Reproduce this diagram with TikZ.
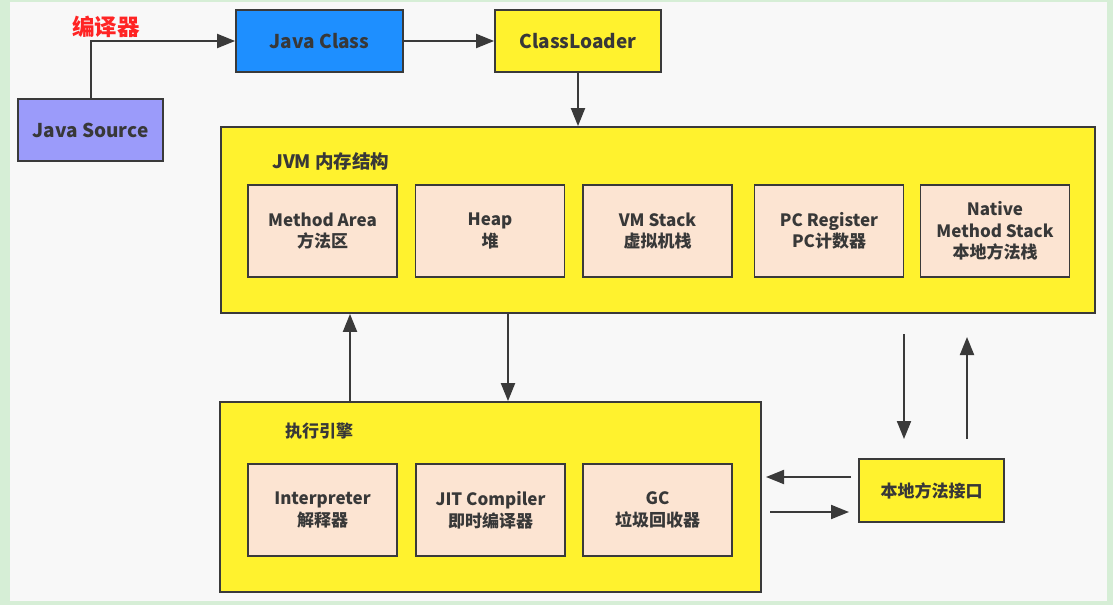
\documentclass[tikz,border=0pt]{standalone}
\usepackage{fontspec}
\setmainfont{Noto Sans CJK SC}
\usetikzlibrary{arrows.meta,calc}
\definecolor{frameg}{HTML}{D6EED6}
\definecolor{canvas}{HTML}{F8F8F8}
\definecolor{edgec}{HTML}{3A3A3A}
\definecolor{txt}{HTML}{383838}
\definecolor{srcc}{HTML}{9B9BFA}
\definecolor{clsc}{HTML}{1E8FFF}
\definecolor{yel}{HTML}{FFF22E}
\definecolor{peach}{HTML}{FCE4D2}
\definecolor{redt}{HTML}{FF2424}
\tikzset{
  box/.style={draw=edgec, line width=1.8pt, inner sep=0pt, align=center, text=txt, font=\fontsize{19}{22}\selectfont\bfseries},
  inbox/.style={box, fill=peach, minimum width=149pt, minimum height=92pt, font=\fontsize{17}{21.5}\selectfont\bfseries},
  arr/.style={draw=edgec, line width=2pt, -{Triangle[length=18pt,width=14pt]}},
  lbl/.style={text=txt, font=\fontsize{18.5}{21}\selectfont\bfseries, inner sep=0pt}
}
\begin{document}
\begin{tikzpicture}[x=1pt,y=-1pt]
\useasboundingbox (0,0) rectangle (1113,605);
\fill[frameg] (0,0) rectangle (1113,605);
\fill[canvas] (10,2) rectangle (1107,601);

\node[box, fill=srcc, minimum width=145pt, minimum height=62pt] (src) at (90.5,130) {Java Source};
\node[box, fill=clsc, minimum width=167pt, minimum height=62pt] (cls) at (319.5,41) {Java Class};
\node[box, fill=yel, minimum width=166pt, minimum height=62pt] (loader) at (578,41) {ClassLoader};
\node[text=redt, font=\fontsize{22.5}{25}\selectfont\bfseries, inner sep=0pt] (comp) at (106,27) {编译器};

\node[box, fill=yel, minimum width=874pt, minimum height=186pt] (jvm) at (658,220) {};
\node[lbl, anchor=west] (jvml) at (272,161) {JVM 内存结构};
\node[inbox] (ma) at (322.5,231) {Method Area\\方法区};
\node[inbox] (heap) at (490,231) {Heap\\堆};
\node[inbox] (vms) at (657.5,231) {VM Stack\\虚拟机栈};
\node[inbox] (pc) at (829,231) {PC Register\\PC计数器};
\node[inbox] (nms) at (995,231) {Native\\Method Stack\\本地方法栈};

\node[box, fill=yel, minimum width=541pt, minimum height=190pt] (exec) at (490.5,497) {};
\node[lbl, anchor=west, font=\fontsize{17}{20}\selectfont\bfseries] (execl) at (285,431) {执行引擎};
\node[inbox] (interp) at (322.5,510) {Interpreter\\解释器};
\node[inbox] (jit) at (490.5,510) {JIT Compiler\\即时编译器};
\node[inbox] (gc) at (657.5,510) {GC\\垃圾回收器};

\node[box, fill=yel, minimum width=145pt, minimum height=63pt, font=\fontsize{17}{20}\selectfont\bfseries] (nif) at (931.5,490.5) {本地方法接口};

\coordinate (u) at (350,0);
\coordinate (d) at (508,0);
\coordinate (na) at (904,334);
\coordinate (nb) at (904,439);
\coordinate (nc) at (967,439);
\coordinate (nd) at (967,337);
\coordinate (la) at (851,477);
\coordinate (lb) at (766,477);
\coordinate (ra) at (770,512);
\coordinate (rb) at (849,512);

\draw[arr] (src.north) |- (cls.west);
\draw[arr] (cls.east) -- (loader.west);
\draw[arr] (loader.south) -- (loader.south |- jvm.north);
\draw[arr] (exec.north -| u) -- (jvm.south -| u);
\draw[arr] (jvm.south -| d) -- (exec.north -| d);
\draw[arr] (na) -- (nb);
\draw[arr] (nc) -- (nd);
\draw[arr] (la) -- (lb);
\draw[arr] (ra) -- (rb);
\end{tikzpicture}
\end{document}
